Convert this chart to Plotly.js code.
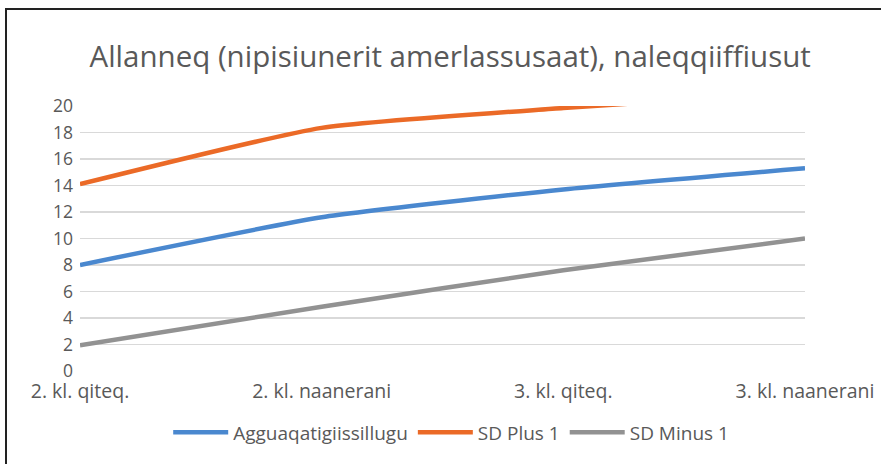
<!DOCTYPE html>
<html>
<head>
<meta charset="utf-8">
<script src="https://cdn.plot.ly/plotly-3.0.1.min.js"></script>
<style>
  html, body { margin: 0; padding: 0; background: #ffffff; }
  #wrap { position: relative; width: 881px; height: 464px; overflow: hidden; background:#fff; }
  #chart { position: absolute; left: 0; top: 0; width: 881px; height: 464px; }
  #frame { position: absolute; left: 5px; top: 8px; width: 890px; height: 470px;
           border-left: 2px solid #222; border-top: 2px solid #222; pointer-events: none; }
</style>
</head>
<body>
<div id="wrap">
  <div id="chart"></div>
  <div id="frame"></div>
</div>
<script>
const categories = ["2. kl. qiteq.", "2. kl. naanerani", "3. kl. qiteq.", "3. kl. naanerani"];
const seriesNames = ["Agguaqatigiissillugu", "SD Plus 1", "SD Minus 1"];
const agguaqatigiissillugu = [8.0, 11.6, 13.7, 15.3];
const sdPlus1 = [14.1, 18.35, 19.85, 21.05];
const sdMinus1 = [1.95, 4.85, 7.6, 10.0];
const yTicks = [0, 2, 4, 6, 8, 10, 12, 14, 16, 18, 20];
const titleText = "Allanneq (nipisiunerit amerlassusaat), naleqqiiffiusut";

const colors = ["#4a88cf", "#eb6a27", "#929292"];
const values = [agguaqatigiissillugu, sdPlus1, sdMinus1];

const traces = values.map((v, i) => ({
  type: "scatter",
  mode: "lines",
  name: seriesNames[i],
  x: categories,
  y: v,
  line: { color: colors[i], width: 4.5, shape: "spline", smoothing: 0.5 },
  hoverinfo: "skip"
}));

const font = "'Open Sans', sans-serif";
const layout = {
  width: 881, height: 464,
  margin: { l: 80, r: 76, t: 106, b: 91 },
  paper_bgcolor: "#ffffff",
  plot_bgcolor: "#ffffff",
  title: {
    text: titleText,
    font: { family: font, size: 29.5, color: "#595959" },
    x: 0.511, xanchor: "center",
    y: 0.877, yanchor: "middle"
  },
  xaxis: {
    type: "category",
    range: [0, 3],
    showgrid: false,
    zeroline: false,
    showline: false,
    ticks: "outside",
    ticklen: 3,
    tickcolor: "rgba(0,0,0,0)",
    tickfont: { family: font, size: 19.5, color: "#595959" }
  },
  yaxis: {
    range: [0, 20],
    tickvals: yTicks,
    showgrid: true,
    gridcolor: "#d9d9d9",
    gridwidth: 1.5,
    zeroline: false,
    showline: false,
    ticks: "",
    tickfont: { family: font, size: 17.5, color: "#595959" },
    ticklabelstandoff: 6
  },
  showlegend: true,
  legend: {
    orientation: "h",
    x: 0.512, xanchor: "center",
    y: -0.232, yanchor: "middle",
    itemwidth: 55,
    font: { family: font, size: 19, color: "#595959" },
    bgcolor: "rgba(0,0,0,0)"
  }
};

Plotly.newPlot("chart", traces, layout, { staticPlot: true, displayModeBar: false });
</script>
</body>
</html>
